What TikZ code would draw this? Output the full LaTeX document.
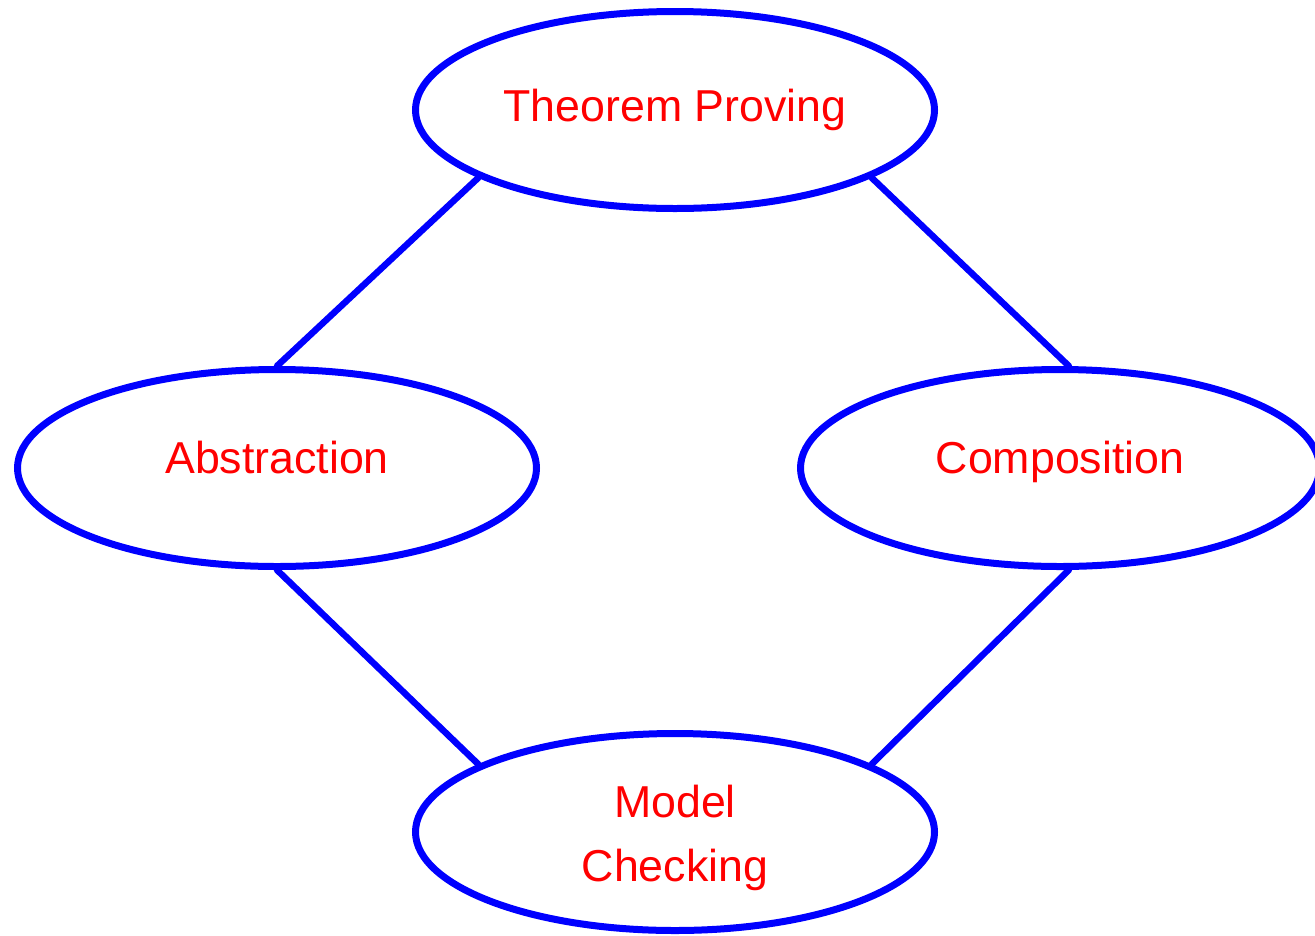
\documentclass[tikz,border=0pt]{standalone}
\usepackage{fontspec}
\setmainfont{Liberation Sans}
\usetikzlibrary{shapes.geometric}
\definecolor{topicblue}{RGB}{0,0,255}
\definecolor{topicred}{RGB}{255,0,0}
\tikzset{
  topic/.style={ellipse, draw=topicblue, line width=7pt,
    minimum width=519pt, minimum height=197pt, inner sep=0pt,
    text=topicred, align=center, font=\fontsize{44.7}{64}\selectfont},
  topiclabel/.style={text=topicred, align=center, inner sep=0pt,
    font=\fontsize{44.7}{64}\selectfont},
  link/.style={draw=topicblue, line width=6.5pt, line cap=round}
}
\begin{document}
\begin{tikzpicture}[x=1pt,y=1pt]
  \useasboundingbox (0,0) rectangle (1315,-935);
  \node[topic] (tp)   at (675,-110) {Theorem Proving};
  \node[topic, text height=32pt, text depth=22pt] (abs) at (277,-468) {Abstraction};
  \node[topic, text height=32pt, text depth=22pt] (comp) at (1060,-468) {Composition};
  \node[topic, label={[topiclabel, yshift=-6pt]center:Model\\Checking}] (mc) at (675,-832) {};
  \draw[link] (tp.199) -- (abs.north);
  \draw[link] (tp.341) -- (comp.85);
  \draw[link] (abs.south) -- (mc.161);
  \draw[link] (comp.275) -- (mc.19);
\end{tikzpicture}
\end{document}
